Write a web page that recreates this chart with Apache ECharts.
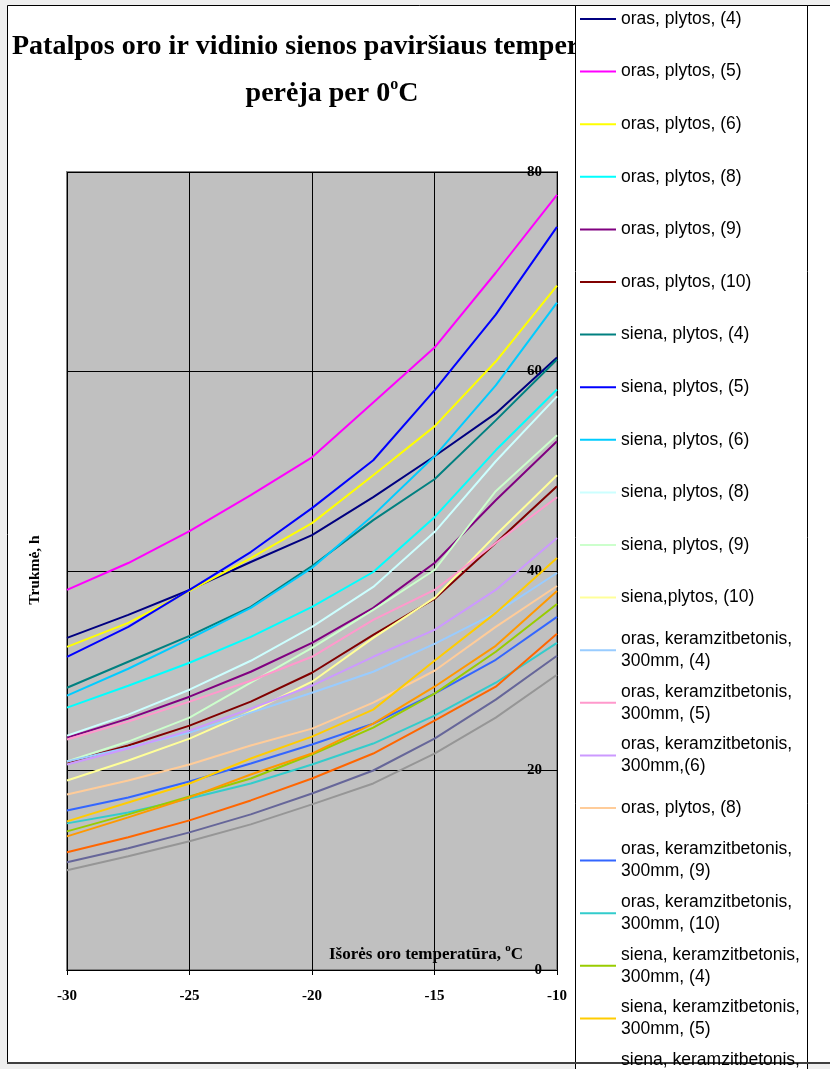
<!DOCTYPE html>
<html>
<head>
<meta charset="utf-8">
<script src="https://cdn.jsdelivr.net/npm/echarts@6/dist/echarts.min.js"></script>
<style>
  html, body { margin: 0; padding: 0; background: #efefef; }
  #chart { width: 830px; height: 1069px; }
</style>
</head>
<body>
<div id="chart"></div>
<script>
// Outdoor air temperature, °C (x axis)
const temps = [-30, -27.5, -25, -22.5, -20, -17.5, -15, -12.5, -10];

// Duration, h, for each case
const orasPlytos4    = [33.3, 35.6, 38.1, 40.9, 43.6, 47.4, 51.5, 55.8, 61.4];
const orasPlytos5    = [38.1, 40.8, 44.0, 47.6, 51.4, 56.9, 62.4, 69.9, 77.7];
const orasPlytos6    = [32.4, 34.8, 38.0, 41.3, 44.8, 49.6, 54.5, 61.0, 68.6];
const orasPlytos8    = [26.3, 28.5, 30.8, 33.4, 36.4, 39.9, 45.4, 52.1, 58.2];
const orasPlytos9    = [23.3, 25.2, 27.4, 29.9, 32.8, 36.3, 40.8, 47.1, 53.0];
const orasPlytos10   = [20.8, 22.5, 24.5, 26.9, 29.8, 33.6, 37.2, 42.8, 48.5];
const sienaPlytos4   = [28.3, 30.9, 33.5, 36.4, 40.5, 45.1, 49.2, 55.1, 61.2];
const sienaPlytos5   = [31.4, 34.4, 38.1, 41.9, 46.3, 51.1, 58.1, 65.7, 74.5];
const sienaPlytos6   = [27.5, 30.2, 33.2, 36.3, 40.3, 45.6, 51.5, 58.6, 66.9];
const sienaPlytos8   = [23.5, 25.6, 28.1, 31.0, 34.4, 38.4, 43.9, 51.0, 57.5];
const sienaPlytos9   = [20.9, 22.9, 25.3, 28.8, 32.3, 36.1, 40.1, 48.0, 53.6];
const sienaPlytos10  = [19.0, 21.0, 23.2, 25.9, 28.9, 33.3, 37.3, 43.6, 49.6];
const orasKeramz4    = [20.9, 22.3, 23.8, 25.8, 27.8, 29.9, 32.7, 35.8, 39.8];
const orasKeramz5    = [23.1, 24.9, 26.9, 29.0, 31.4, 35.1, 38.1, 42.8, 47.4];
const orasKeramz6    = [20.6, 22.2, 24.0, 26.2, 28.5, 31.4, 34.1, 38.1, 43.3];
const orasPlytos8b   = [17.6, 19.0, 20.6, 22.5, 24.2, 26.8, 30.0, 34.4, 38.5];
const orasKeramz9    = [16.0, 17.3, 18.9, 20.7, 22.6, 24.7, 27.7, 31.1, 35.4];
const orasKeramz10   = [14.7, 15.8, 17.2, 18.7, 20.6, 22.7, 25.5, 28.8, 32.8];
const sienaKeramz4   = [13.9, 15.6, 17.4, 19.2, 21.6, 24.3, 27.7, 31.9, 36.7];
const sienaKeramz5   = [14.9, 16.8, 18.7, 21.2, 23.4, 26.1, 31.0, 35.8, 41.3];
const sienaKeramz6   = [13.4, 15.3, 17.3, 19.6, 21.7, 24.7, 28.4, 32.5, 38.0];
const sienaKeramz8   = [11.8, 13.3, 15.0, 17.0, 19.2, 21.7, 25.0, 28.4, 33.7];
const sienaKeramz9   = [10.8, 12.2, 13.8, 15.6, 17.7, 20.0, 23.2, 27.1, 31.5];
const sienaKeramz10  = [10.0, 11.4, 12.9, 14.6, 16.6, 18.7, 21.7, 25.3, 29.6];

const seriesValues = [
  orasPlytos4, orasPlytos5, orasPlytos6, orasPlytos8, orasPlytos9, orasPlytos10,
  sienaPlytos4, sienaPlytos5, sienaPlytos6, sienaPlytos8, sienaPlytos9, sienaPlytos10,
  orasKeramz4, orasKeramz5, orasKeramz6, orasPlytos8b, orasKeramz9, orasKeramz10,
  sienaKeramz4, sienaKeramz5, sienaKeramz6, sienaKeramz8, sienaKeramz9, sienaKeramz10
];

// Legend labels (the second "(8)" entry carries a trailing space so it stays a distinct series)
const seriesNames = [
  'oras, plytos, (4)', 'oras, plytos, (5)', 'oras, plytos, (6)',
  'oras, plytos, (8)', 'oras, plytos, (9)', 'oras, plytos, (10)',
  'siena, plytos, (4)', 'siena, plytos, (5)', 'siena, plytos, (6)',
  'siena, plytos, (8)', 'siena, plytos, (9)', 'siena,plytos, (10)',
  'oras, keramzitbetonis,\n300mm, (4)', 'oras, keramzitbetonis,\n300mm, (5)',
  'oras, keramzitbetonis,\n300mm,(6)', 'oras, plytos, (8) ',
  'oras, keramzitbetonis,\n300mm, (9)', 'oras, keramzitbetonis,\n300mm, (10)',
  'siena, keramzitbetonis,\n300mm, (4)', 'siena, keramzitbetonis,\n300mm, (5)',
  'siena, keramzitbetonis,\n300mm, (6)', 'siena, keramzitbetonis,\n300mm, (8)',
  'siena, keramzitbetonis,\n300mm, (9)', 'siena, keramzitbetonis,\n300mm, (10)'
];

const seriesColors = [
  '#000080', '#FF00FF', '#FFFF00', '#00FFFF', '#800080', '#800000',
  '#008080', '#0000FF', '#00CCFF', '#CCFFFF', '#CCFFCC', '#FFFF99',
  '#99CCFF', '#FF99CC', '#CC99FF', '#FFCC99', '#3366FF', '#33CCCC',
  '#99CC00', '#FFCC00', '#FF9900', '#FF6600', '#666699', '#969696'
];

const xTickValues = [-30, -25, -20, -15, -10];
const yTickValues = [0, 20, 40, 60, 80];

const titleLine1 = 'Patalpos oro ir vidinio sienos paviršiaus temperatūros';
const titleLine2 = 'perėja per 0{sup|o}C';
const xAxisTitle = 'Išorės oro temperatūra, {sup|o}C';
const yAxisTitle = 'Trukmė, h';

const serif = '"Liberation Serif", "Times New Roman", serif';
const sans = '"Liberation Sans", Arial, sans-serif';

const series = seriesNames.map((name, i) => ({
  name: name,
  type: 'line',
  data: temps.map((t, k) => [t, seriesValues[i][k]]),
  symbol: 'none',
  smooth: false,
  color: seriesColors[i],
  lineStyle: { width: 2, color: seriesColors[i] },
  emphasis: { disabled: true },
  z: 3
}));

// One legend block per entry, stacked down the right-hand panel
const legendStep = 52.6;
const legendFirstY = 20;
const legends = seriesNames.map((name, i) => {
  const twoLines = name.indexOf('\n') >= 0;
  const iconY = legendFirstY + legendStep * i;
  return {
    data: [name],
    orient: 'vertical',
    left: 580,
    top: iconY - (twoLines ? 34 : 12),
    padding: 0,
    icon: 'rect',
    itemWidth: 36,
    itemHeight: 2,
    selectedMode: false,
    z: 60,
    textStyle: {
      fontFamily: sans,
      fontSize: 17.5,
      color: '#000',
      lineHeight: 22,
      padding: twoLines ? [22, 0, 0, 0] : 0
    }
  };
});

const titleFont = {
  fontFamily: serif,
  fontWeight: 'bold',
  fontSize: 28,
  lineHeight: 30,
  color: '#000',
  rich: {
    sup: { fontFamily: serif, fontWeight: 'bold', fontSize: 16, padding: [0, 0, 18, 0] }
  }
};

const chart = echarts.init(document.getElementById('chart'), null, { renderer: 'canvas' });

chart.setOption({
  animation: false,
  backgroundColor: '#efefef',
  title: [
    { text: titleLine1, left: 7, top: 27, textStyle: titleFont },
    { text: titleLine2, left: 327, top: 74, textAlign: 'center', textStyle: titleFont }
  ],
  grid: {
    left: 67,
    right: 273,
    top: 172,
    bottom: 99,
    show: true,
    backgroundColor: '#C0C0C0',
    borderColor: '#808080',
    borderWidth: 2,
    outerBoundsMode: 'none'
  },
  xAxis: {
    type: 'value',
    min: -30,
    max: -10,
    interval: 5,
    axisLine: { show: true, onZero: false, lineStyle: { color: '#000', width: 1 } },
    axisTick: { show: true, length: 5, lineStyle: { color: '#000' } },
    axisLabel: {
      margin: 19,
      fontFamily: serif,
      fontWeight: 'bold',
      fontSize: 15,
      color: '#000',
      formatter: v => (xTickValues.indexOf(v) >= 0 ? String(v) : '')
    },
    splitLine: { show: true, lineStyle: { color: '#000', width: 1 } }
  },
  yAxis: {
    type: 'value',
    position: 'right',
    min: 0,
    max: 80,
    interval: 20,
    axisLine: { show: true, onZero: false, lineStyle: { color: '#000', width: 1 } },
    axisTick: { show: true, inside: true, length: 6, lineStyle: { color: '#000' } },
    axisLabel: {
      inside: true,
      margin: 15,
      fontFamily: serif,
      fontWeight: 'bold',
      fontSize: 15,
      color: '#000',
      formatter: v => (yTickValues.indexOf(v) >= 0 ? String(v) : '')
    },
    splitLine: { show: true, lineStyle: { color: '#000', width: 1 } }
  },
  legend: legends,
  graphic: [
    {
      type: 'rect', z: -100, silent: true,
      shape: { x: 7.5, y: 5.5, width: 840, height: 1058 },
      style: { fill: '#ffffff', stroke: '#000', lineWidth: 1 }
    },
    {
      type: 'text', z: 5, silent: true,
      x: 426, y: 955,
      style: {
        text: xAxisTitle,
        fontFamily: serif, fontWeight: 'bold', fontSize: 17, fill: '#000',
        align: 'center', verticalAlign: 'middle',
        rich: { sup: { fontFamily: serif, fontWeight: 'bold', fontSize: 11, padding: [0, 0, 13, 0] } }
      }
    },
    {
      type: 'text', z: 5, silent: true,
      x: 35, y: 570, rotation: Math.PI / 2,
      style: {
        text: yAxisTitle,
        fontFamily: serif, fontWeight: 'bold', fontSize: 15.5, fill: '#000',
        align: 'center', verticalAlign: 'middle'
      }
    },
    {
      type: 'rect', z: 50, silent: true,
      shape: { x: 575.5, y: 5.5, width: 232, height: 1100 },
      style: { fill: '#ffffff', stroke: '#000', lineWidth: 1 }
    },
    {
      type: 'line', z: 55, silent: true,
      shape: { x1: 7, y1: 1063, x2: 830, y2: 1063 },
      style: { stroke: '#404040', lineWidth: 2 }
    }
  ],
  series: series
});
</script>
</body>
</html>
